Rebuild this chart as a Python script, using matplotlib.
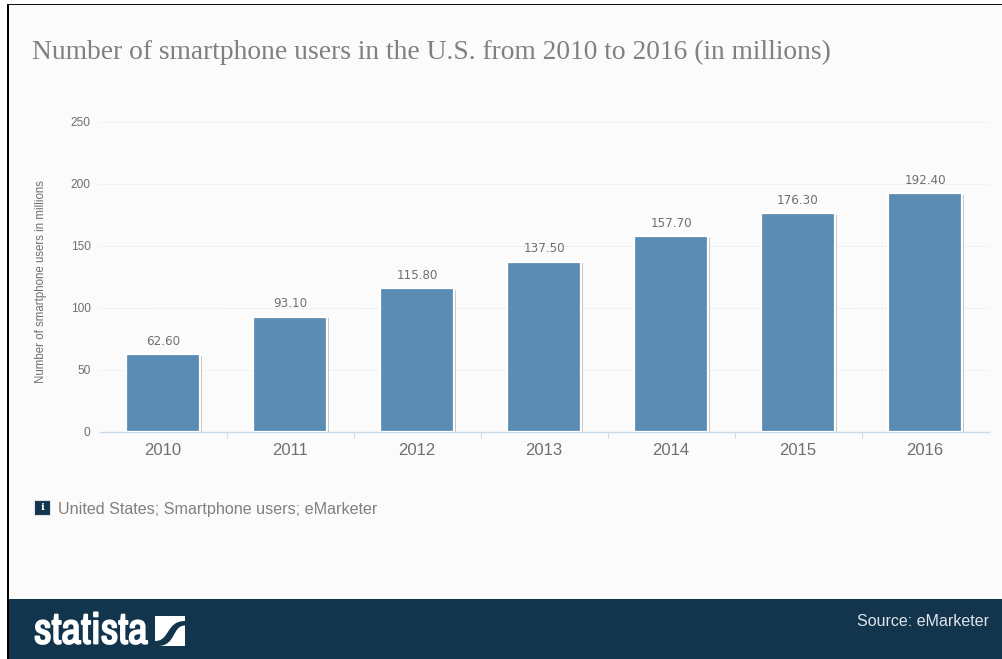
import matplotlib
matplotlib.use('Agg')
from matplotlib import pyplot as plt
from matplotlib import patheffects as pe
from matplotlib.patches import Rectangle, PathPatch
from matplotlib.path import Path
import numpy as np

years = ['2010', '2011', '2012', '2013', '2014', '2015', '2016']
users = [62.6, 93.1, 115.8, 137.5, 157.7, 176.3, 192.4]
y_ticks = [0, 50, 100, 150, 200, 250]

W, H = 1003, 659
GREY = '#6f6f6f'
NAVY = '#12344d'
fig = plt.figure(figsize=(W / 100, H / 100), dpi=100, facecolor='white')

# page chrome, drawn in pixel coordinates
bg = fig.add_axes([0, 0, 1, 1])
bg.set_xlim(0, W)
bg.set_ylim(H, 0)
bg.axis('off')
bg.add_patch(Rectangle((8, 5), W, H, fc='#fbfbfb', ec='none', clip_on=False))
bg.add_patch(Rectangle((7, 4), 1.8, H, fc='black', ec='none', clip_on=False))
bg.add_patch(Rectangle((7, 3.5), W, 1.6, fc='#111111', ec='none', clip_on=False))
bg.add_patch(Rectangle((8.8, 599), W, 70, fc=NAVY, ec='none', clip_on=False))

bg.text(32, 52, 'Number of smartphone users in the U.S. from 2010 to 2016 (in millions)',
        family=['Liberation Serif', 'DejaVu Serif'], fontsize=19.8, color='#808080',
        va='center', ha='left')

# info badge + note
bg.add_patch(Rectangle((34.5, 499.5), 16, 15, fc=NAVY, ec='#dde3e8', lw=0.8))
bg.text(42.5, 507.5, 'i', family='DejaVu Serif', fontsize=7.5, weight='bold', color='white',
        ha='center', va='center')
bg.text(58, 509.5, 'United States; Smartphone users; eMarketer',
        family='Liberation Sans', fontsize=11.6, color='#808080', va='center')

# footer, the logo face only comes in regular here so thicken it with a stroke
logo = bg.text(34, 631.5, 'statista', family=['Archivo Narrow', 'Liberation Sans'],
               fontsize=31, weight='bold', color='white', va='center', ha='left')
logo.set_path_effects([pe.withStroke(linewidth=1.3, foreground='white')])
bg.add_patch(Rectangle((155, 616), 30, 30, fc='white', ec='none'))
swoosh = Path([(155, 641), (170, 641), (166, 621), (185, 621), (185, 625.5),
               (172, 625.5), (176, 646), (158, 646), (155, 646), (155, 641)],
              [Path.MOVETO, Path.CURVE4, Path.CURVE4, Path.CURVE4, Path.LINETO,
               Path.CURVE4, Path.CURVE4, Path.CURVE4, Path.LINETO, Path.CLOSEPOLY])
bg.add_patch(PathPatch(swoosh, fc=NAVY, ec='none'))
bg.text(989, 622, 'Source: eMarketer', family='Liberation Sans', fontsize=11.55,
        color='#dfe5ea', ha='right', va='center')

# chart
left, right, top, bottom = 99.5, 988.5, 122, 432
ax = fig.add_axes([left / W, 1 - bottom / H, (right - left) / W, (bottom - top) / H])
ax.patch.set_alpha(0)
x = np.arange(len(years))
bars = ax.bar(x, users, width=0.58, color='#5b8db4', edgecolor='white', linewidth=1.6,
              zorder=3)
for b in bars:
    b.set_path_effects([pe.SimplePatchShadow(offset=(1.5, -1), shadow_rgbFace='#b4b4b4',
                                             alpha=0.8), pe.Normal()])
for xi, v in zip(x, users):
    ax.annotate(f'{v:.2f}', (xi, v), xytext=(0, 4.5), textcoords='offset points',
                ha='center', va='bottom', family='DejaVu Sans', fontsize=8.6, color=GREY)

ax.set_xlim(-0.5, len(years) - 0.5)
ax.set_ylim(0, 250)
ax.set_yticks(y_ticks)
ax.set_xticks(x)
ax.set_xticklabels(years, family='Liberation Sans', fontsize=12, color=GREY)
ax.set_xticks(np.arange(0.5, len(years) - 1), minor=True)
ax.tick_params(axis='x', which='major', length=0, pad=8)
ax.tick_params(axis='x', which='minor', length=4.5, width=0.8, color='#ccd9e6')
ax.tick_params(axis='y', length=0, pad=6.5, labelcolor=GREY)
for lab in ax.get_yticklabels():
    lab.set_family('Liberation Sans')
    lab.set_fontsize(8.6)
ax.grid(axis='y', color='#e8e8e8', linewidth=0.7, linestyle=(0, (2, 2)), zorder=0)
ax.set_axisbelow(True)
for s in ['top', 'right', 'left']:
    ax.spines[s].set_visible(False)
ax.spines['bottom'].set_color('#ccd9e6')
ax.spines['bottom'].set_linewidth(1)

bg.text(41, 282, 'Number of smartphone users in millions', rotation=90, family='Liberation Sans',
        fontsize=8.3, color=GREY, ha='center', va='center')

fig.savefig('out.png', dpi=100, facecolor=fig.get_facecolor())
